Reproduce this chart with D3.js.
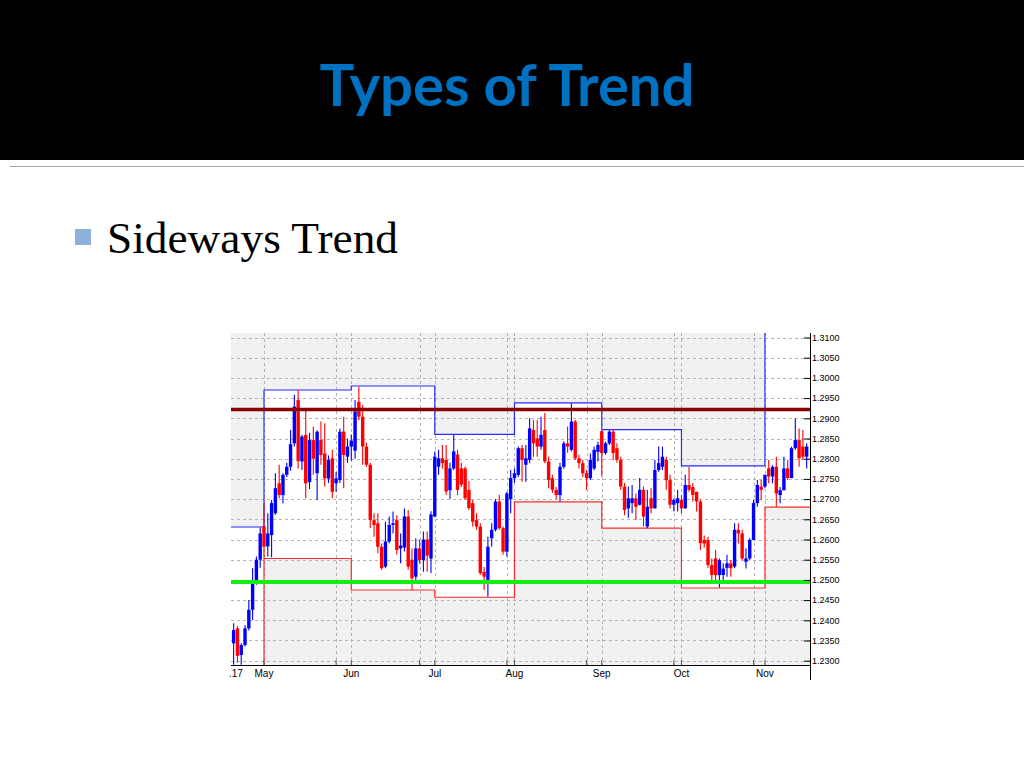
<!DOCTYPE html>
<html>
<head>
<meta charset="utf-8">
<script src="https://cdn.jsdelivr.net/npm/d3@7"></script>
<style>
  body { margin: 0; background: #fff; }
  svg { display: block; }
</style>
</head>
<body>
<svg id="slide" width="1024" height="768"></svg>
<script>
// Trading calendar shown on the chart (weekdays only).
const firstDay = "2006-04-17";
const lastDay = "2006-11-17";
const candleStart = "2006-04-19";

// Daily candles, one row per month.
const opens = [
  1.2343, 1.2380, 1.2314, 1.2339, 1.2380, 1.2426, 1.2492, 1.2550,
  1.2632, 1.2583, 1.2611, 1.2665, 1.2739, 1.2710, 1.2760, 1.2780, 1.2838, 1.2945, 1.2793, 1.2859, 1.2742, 1.2846, 1.2764, 1.2846, 1.2813, 1.2751, 1.2801, 1.2739, 1.2747, 1.2867, 1.2805,
  1.2830, 1.2820, 1.2941, 1.2904, 1.2830, 1.2785, 1.2648, 1.2640, 1.2582, 1.2533, 1.2595, 1.2636, 1.2648, 1.2578, 1.2580, 1.2657, 1.2550, 1.2508, 1.2578, 1.2549, 1.2600, 1.2553,
  1.2657, 1.2780, 1.2801, 1.2797, 1.2722, 1.2776, 1.2810, 1.2776, 1.2776, 1.2723, 1.2690, 1.2648, 1.2632, 1.2520, 1.2500, 1.2603, 1.2624, 1.2694, 1.2628, 1.2570, 1.2700,
  1.2752, 1.2760, 1.2826, 1.2785, 1.2797, 1.2871, 1.2850, 1.2830, 1.2871, 1.2793, 1.2752, 1.2723, 1.2710, 1.2780, 1.2838, 1.2822, 1.2892, 1.2801, 1.2789, 1.2764, 1.2752, 1.2776, 1.2817,
  1.2868, 1.2814, 1.2838, 1.2867, 1.2826, 1.2797, 1.2731, 1.2677, 1.2690, 1.2702, 1.2686, 1.2723, 1.2632, 1.2702, 1.2677, 1.2772, 1.2780, 1.2797, 1.2747, 1.2686, 1.2690,
  1.2698, 1.2677, 1.2735, 1.2730, 1.2718, 1.2694, 1.2599, 1.2599, 1.2537, 1.2553, 1.2512, 1.2512, 1.2530, 1.2541, 1.2533, 1.2624, 1.2615, 1.2545, 1.2553, 1.2599, 1.2690, 1.2731,
  1.2731, 1.2776, 1.2756, 1.2780, 1.2710, 1.2722, 1.2776, 1.2752, 1.2826, 1.2846, 1.2830, 1.2805
];
const highs = [
  1.2393, 1.2385, 1.2343, 1.2388, 1.2450, 1.2529, 1.2558, 1.2630,
  1.2690, 1.2665, 1.2698, 1.2764, 1.2785, 1.2764, 1.2790, 1.2871, 1.2958, 1.2970, 1.2859, 1.2920, 1.2864, 1.2880, 1.2870, 1.2892, 1.2888, 1.2808, 1.2822, 1.2768, 1.2875, 1.2904, 1.2850,
  1.2860, 1.2945, 1.2978, 1.2933, 1.2840, 1.2790, 1.2665, 1.2665, 1.2590, 1.2644, 1.2657, 1.2669, 1.2660, 1.2615, 1.2677, 1.2673, 1.2578, 1.2603, 1.2600, 1.2620, 1.2620, 1.2670,
  1.2818, 1.2822, 1.2834, 1.2834, 1.2790, 1.2859, 1.2822, 1.2790, 1.2781, 1.2745, 1.2698, 1.2665, 1.2640, 1.2532, 1.2607, 1.2640, 1.2700, 1.2710, 1.2632, 1.2718, 1.2772,
  1.2776, 1.2830, 1.2834, 1.2834, 1.2900, 1.2896, 1.2896, 1.2904, 1.2913, 1.2805, 1.2760, 1.2730, 1.2790, 1.2843, 1.2880, 1.2937, 1.2896, 1.2810, 1.2797, 1.2772, 1.2813, 1.2830, 1.2842,
  1.2871, 1.2842, 1.2871, 1.2871, 1.2838, 1.2805, 1.2740, 1.2731, 1.2735, 1.2714, 1.2752, 1.2731, 1.2723, 1.2727, 1.2797, 1.2830, 1.2830, 1.2805, 1.2760, 1.2702, 1.2723,
  1.2710, 1.2760, 1.2780, 1.2740, 1.2718, 1.2699, 1.2610, 1.2607, 1.2553, 1.2574, 1.2553, 1.2541, 1.2562, 1.2549, 1.2640, 1.2640, 1.2624, 1.2578, 1.2603, 1.2698, 1.2747, 1.2747,
  1.2760, 1.2797, 1.2784, 1.2805, 1.2730, 1.2805, 1.2797, 1.2830, 1.2900, 1.2875, 1.2871, 1.2838
];
const lows = [
  1.2290, 1.2295, 1.2290, 1.2335, 1.2375, 1.2401, 1.2488, 1.2530,
  1.2555, 1.2558, 1.2556, 1.2661, 1.2702, 1.2690, 1.2755, 1.2770, 1.2830, 1.2776, 1.2772, 1.2702, 1.2725, 1.2760, 1.2698, 1.2785, 1.2731, 1.2740, 1.2702, 1.2718, 1.2740, 1.2727, 1.2790,
  1.2795, 1.2800, 1.2895, 1.2785, 1.2780, 1.2628, 1.2607, 1.2566, 1.2525, 1.2529, 1.2591, 1.2615, 1.2562, 1.2541, 1.2570, 1.2525, 1.2475, 1.2500, 1.2540, 1.2520, 1.2520, 1.2517,
  1.2655, 1.2760, 1.2775, 1.2710, 1.2700, 1.2772, 1.2710, 1.2730, 1.2698, 1.2673, 1.2632, 1.2624, 1.2512, 1.2475, 1.2458, 1.2582, 1.2620, 1.2624, 1.2562, 1.2558, 1.2665,
  1.2740, 1.2755, 1.2743, 1.2743, 1.2789, 1.2805, 1.2805, 1.2822, 1.2789, 1.2727, 1.2715, 1.2700, 1.2694, 1.2775, 1.2815, 1.2818, 1.2797, 1.2776, 1.2755, 1.2723, 1.2747, 1.2772, 1.2793,
  1.2756, 1.2810, 1.2834, 1.2797, 1.2790, 1.2723, 1.2660, 1.2653, 1.2665, 1.2648, 1.2684, 1.2632, 1.2628, 1.2665, 1.2677, 1.2768, 1.2772, 1.2723, 1.2677, 1.2669, 1.2669,
  1.2665, 1.2677, 1.2718, 1.2694, 1.2669, 1.2574, 1.2580, 1.2530, 1.2500, 1.2500, 1.2481, 1.2496, 1.2508, 1.2508, 1.2529, 1.2590, 1.2549, 1.2528, 1.2549, 1.2599, 1.2681, 1.2698,
  1.2727, 1.2739, 1.2739, 1.2681, 1.2690, 1.2722, 1.2747, 1.2752, 1.2822, 1.2780, 1.2797, 1.2776
];
const closes = [
  1.2376, 1.2312, 1.2339, 1.2380, 1.2426, 1.2492, 1.2550, 1.2615,
  1.2582, 1.2615, 1.2690, 1.2727, 1.2710, 1.2760, 1.2780, 1.2836, 1.2929, 1.2794, 1.2855, 1.2739, 1.2846, 1.2800, 1.2867, 1.2809, 1.2751, 1.2797, 1.2718, 1.2751, 1.2867, 1.2809, 1.2830,
  1.2845, 1.2917, 1.2904, 1.2830, 1.2785, 1.2648, 1.2636, 1.2582, 1.2529, 1.2595, 1.2636, 1.2640, 1.2574, 1.2585, 1.2657, 1.2533, 1.2504, 1.2578, 1.2549, 1.2600, 1.2560, 1.2662,
  1.2805, 1.2801, 1.2789, 1.2719, 1.2776, 1.2818, 1.2723, 1.2736, 1.2702, 1.2678, 1.2644, 1.2632, 1.2517, 1.2508, 1.2582, 1.2624, 1.2694, 1.2628, 1.2570, 1.2714, 1.2752,
  1.2764, 1.2826, 1.2797, 1.2801, 1.2875, 1.2838, 1.2830, 1.2859, 1.2793, 1.2747, 1.2723, 1.2710, 1.2780, 1.2838, 1.2830, 1.2892, 1.2801, 1.2789, 1.2764, 1.2752, 1.2797, 1.2822, 1.2834,
  1.2814, 1.2838, 1.2867, 1.2814, 1.2797, 1.2731, 1.2673, 1.2702, 1.2702, 1.2681, 1.2723, 1.2657, 1.2681, 1.2677, 1.2772, 1.2789, 1.2805, 1.2747, 1.2686, 1.2698, 1.2702,
  1.2677, 1.2735, 1.2723, 1.2710, 1.2694, 1.2591, 1.2590, 1.2537, 1.2512, 1.2512, 1.2549, 1.2528, 1.2541, 1.2529, 1.2624, 1.2615, 1.2553, 1.2553, 1.2599, 1.2690, 1.2735, 1.2723,
  1.2760, 1.2756, 1.2780, 1.2714, 1.2722, 1.2776, 1.2752, 1.2826, 1.2846, 1.2801, 1.2805, 1.2830
];

// Monthly high / low channel (Apr low and Nov high run off the chart).
const monthStarts = ["2006-04-17", "2006-05-01", "2006-06-01", "2006-07-03", "2006-08-01", "2006-09-01", "2006-10-02", "2006-11-01"];
const monthHighs = [1.2631, 1.2970, 1.2980, 1.2860, 1.2938, 1.2872, 1.2782, 1.3200];
const monthLows = [1.2200, 1.2553, 1.2475, 1.2457, 1.2693, 1.2628, 1.2480, 1.2680];
const monthLabels = ["", "May", "Jun", "Jul", "Aug", "Sep", "Oct", "Nov"];

const gridDays = ["2006-05-26", "2006-06-27", "2006-07-28", "2006-08-28", "2006-09-28", "2006-10-27"];
const priceTicks = [1.2300, 1.2350, 1.2400, 1.2450, 1.2500, 1.2550, 1.2600, 1.2650, 1.2700,
  1.2750, 1.2800, 1.2850, 1.2900, 1.2950, 1.3000, 1.3050, 1.3100];

const resistance = 1.2922;
const support = 1.2495;

// ---- layout ----
const plot = { left: 231, right: 810, top: 333, bottom: 665 };
const barStep = 3.795;
const firstBarX = 224.15; // left edge of the Apr 17 slot

const svg = d3.select("#slide");
const fmtDay = d3.timeFormat("%Y-%m-%d");
const parseDay = d3.timeParse("%Y-%m-%d");

const tradingDays = d3.timeDay
  .range(parseDay(firstDay), d3.timeDay.offset(parseDay(lastDay), 1))
  .filter((d) => d.getDay() !== 0 && d.getDay() !== 6)
  .map(fmtDay);

const startIdx = tradingDays.indexOf(candleStart);
const candles = closes.map((c, k) => ({
  day: tradingDays[startIdx + k],
  open: opens[k],
  high: highs[k],
  low: lows[k],
  close: c,
}));

const x = d3
  .scaleBand()
  .domain(tradingDays)
  .range([firstBarX, firstBarX + tradingDays.length * barStep])
  .padding(0);
const cx = (day) => x(day) + x.bandwidth() / 2;

const y = d3.scaleLinear().domain([1.23, 1.31]).range([660.7, 337.5]);

// ---- slide header ----
svg.append("rect").attr("width", 1024).attr("height", 160).attr("fill", "#000");
svg
  .append("text")
  .attr("x", 507)
  .attr("y", 106)
  .attr("text-anchor", "middle")
  .attr("font-family", "Lato, 'Open Sans', sans-serif")
  .attr("font-weight", "bold")
  .attr("font-size", 58)
  .attr("fill", "#0070C0")
  .attr("textLength", 375)
  .attr("lengthAdjust", "spacingAndGlyphs")
  .text("Types of Trend");
svg
  .append("line")
  .attr("x1", 10)
  .attr("x2", 1024)
  .attr("y1", 166.5)
  .attr("y2", 166.5)
  .attr("stroke", "#a6a6a6")
  .attr("stroke-width", 1);

svg.append("rect").attr("x", 75).attr("y", 229).attr("width", 16).attr("height", 16).attr("fill", "#8EB0DA");
svg
  .append("text")
  .attr("x", 107)
  .attr("y", 253)
  .attr("font-family", "'Liberation Serif', 'Times New Roman', serif")
  .attr("font-size", 45)
  .attr("fill", "#000")
  .attr("textLength", 291)
  .attr("lengthAdjust", "spacingAndGlyphs")
  .text("Sideways Trend");

// ---- chart ----
svg
  .append("defs")
  .append("clipPath")
  .attr("id", "plot-clip")
  .append("rect")
  .attr("x", plot.left)
  .attr("y", plot.top)
  .attr("width", plot.right - plot.left)
  .attr("height", plot.bottom - plot.top);

const chart = svg.append("g").attr("clip-path", "url(#plot-clip)");

chart
  .append("rect")
  .attr("x", plot.left)
  .attr("y", plot.top)
  .attr("width", plot.right - plot.left)
  .attr("height", plot.bottom - plot.top)
  .attr("fill", "#f1f1f1");

// White band between each month's high and low.
const channel = monthStarts.map((d, k) => ({
  x0: cx(d),
  x1: k < monthStarts.length - 1 ? cx(monthStarts[k + 1]) : plot.right,
  high: monthHighs[k],
  low: monthLows[k],
}));
chart
  .selectAll("rect.band")
  .data(channel)
  .join("rect")
  .attr("class", "band")
  .attr("x", (d) => d.x0)
  .attr("width", (d) => d.x1 - d.x0)
  .attr("y", (d) => y(d.high))
  .attr("height", (d) => y(d.low) - y(d.high))
  .attr("fill", "#fff");

// Dashed grid.
const grid = chart.append("g").attr("stroke", "#b4b4b4").attr("stroke-width", 1).attr("stroke-dasharray", "3,3");
grid
  .selectAll("line.h")
  .data(priceTicks)
  .join("line")
  .attr("x1", plot.left)
  .attr("x2", plot.right)
  .attr("y1", (d) => Math.round(y(d)) + 0.5)
  .attr("y2", (d) => Math.round(y(d)) + 0.5);
grid
  .selectAll("line.v")
  .data([...monthStarts.slice(1), ...gridDays])
  .join("line")
  .attr("x1", (d) => Math.round(cx(d)) + 0.5)
  .attr("x2", (d) => Math.round(cx(d)) + 0.5)
  .attr("y1", plot.top)
  .attr("y2", plot.bottom);

// Channel step lines.
const stepPts = (key) => [...channel.map((c) => [c.x0, y(c[key])]), [plot.right, y(channel[channel.length - 1][key])]];
const stepLine = d3.line().curve(d3.curveStepAfter);
chart.append("path").attr("d", stepLine(stepPts("high"))).attr("fill", "none").attr("stroke", "#2b2bff").attr("stroke-width", 1.2);
chart.append("path").attr("d", stepLine(stepPts("low"))).attr("fill", "none").attr("stroke", "#ff2b2b").attr("stroke-width", 1.2);

// Candles.
const colorOf = (d) => (d.close >= d.open ? "#0000ff" : "#ff0000");
const candleG = chart.selectAll("g.candle").data(candles).join("g").attr("class", "candle");
candleG
  .append("line")
  .attr("x1", (d) => cx(d.day))
  .attr("x2", (d) => cx(d.day))
  .attr("y1", (d) => y(d.high))
  .attr("y2", (d) => y(d.low))
  .attr("stroke", colorOf)
  .attr("stroke-width", 1.1);
candleG
  .append("rect")
  .attr("x", (d) => cx(d.day) - 1.7)
  .attr("width", 3.4)
  .attr("y", (d) => y(Math.max(d.open, d.close)))
  .attr("height", (d) => Math.max(1, Math.abs(y(d.open) - y(d.close))))
  .attr("fill", colorOf);

// Resistance and support.
chart
  .append("line")
  .attr("x1", plot.left)
  .attr("x2", plot.right)
  .attr("y1", y(resistance))
  .attr("y2", y(resistance))
  .attr("stroke", "#8b0000")
  .attr("stroke-width", 3.5);
chart
  .append("line")
  .attr("x1", plot.left)
  .attr("x2", plot.right)
  .attr("y1", y(support))
  .attr("y2", y(support))
  .attr("stroke", "#14ee14")
  .attr("stroke-width", 4);

// ---- axes ----
const axisFont = "'Liberation Sans', Arial, sans-serif";

const labelOf = new Map(monthStarts.map((d, k) => [d, monthLabels[k]]));
const xAxis = d3
  .axisBottom(x)
  .tickValues([...monthStarts.slice(1), ...gridDays])
  .tickSizeInner(-5)
  .tickSizeOuter(0)
  .tickPadding(5)
  .tickFormat((d) => labelOf.get(d) || "");
const xg = svg.append("g").attr("transform", `translate(0,${plot.bottom})`).call(xAxis);
xg.select(".domain").remove();
xg.selectAll("text").attr("font-family", axisFont).attr("font-size", 10).attr("fill", "#000");
xg.selectAll("line").attr("stroke", "#555");

svg
  .append("text")
  .attr("x", 229)
  .attr("y", 677)
  .attr("font-family", axisFont)
  .attr("font-size", 10)
  .text(".17");

const yAxis = d3
  .axisRight(y)
  .tickValues(priceTicks)
  .tickSizeInner(-6)
  .tickSizeOuter(0)
  .tickPadding(2)
  .tickFormat(d3.format(".4f"));
const yg = svg.append("g").attr("transform", `translate(${plot.right},0)`).call(yAxis);
yg.select(".domain").remove();
yg.selectAll("text").attr("font-family", axisFont).attr("font-size", 9).attr("fill", "#000");
yg.selectAll("line").attr("stroke", "#000");

svg
  .append("line")
  .attr("x1", plot.left)
  .attr("x2", plot.right)
  .attr("y1", plot.bottom + 0.5)
  .attr("y2", plot.bottom + 0.5)
  .attr("stroke", "#000");
svg
  .append("line")
  .attr("x1", plot.right + 0.5)
  .attr("x2", plot.right + 0.5)
  .attr("y1", plot.top)
  .attr("y2", 680)
  .attr("stroke", "#000");
</script>
</body>
</html>
